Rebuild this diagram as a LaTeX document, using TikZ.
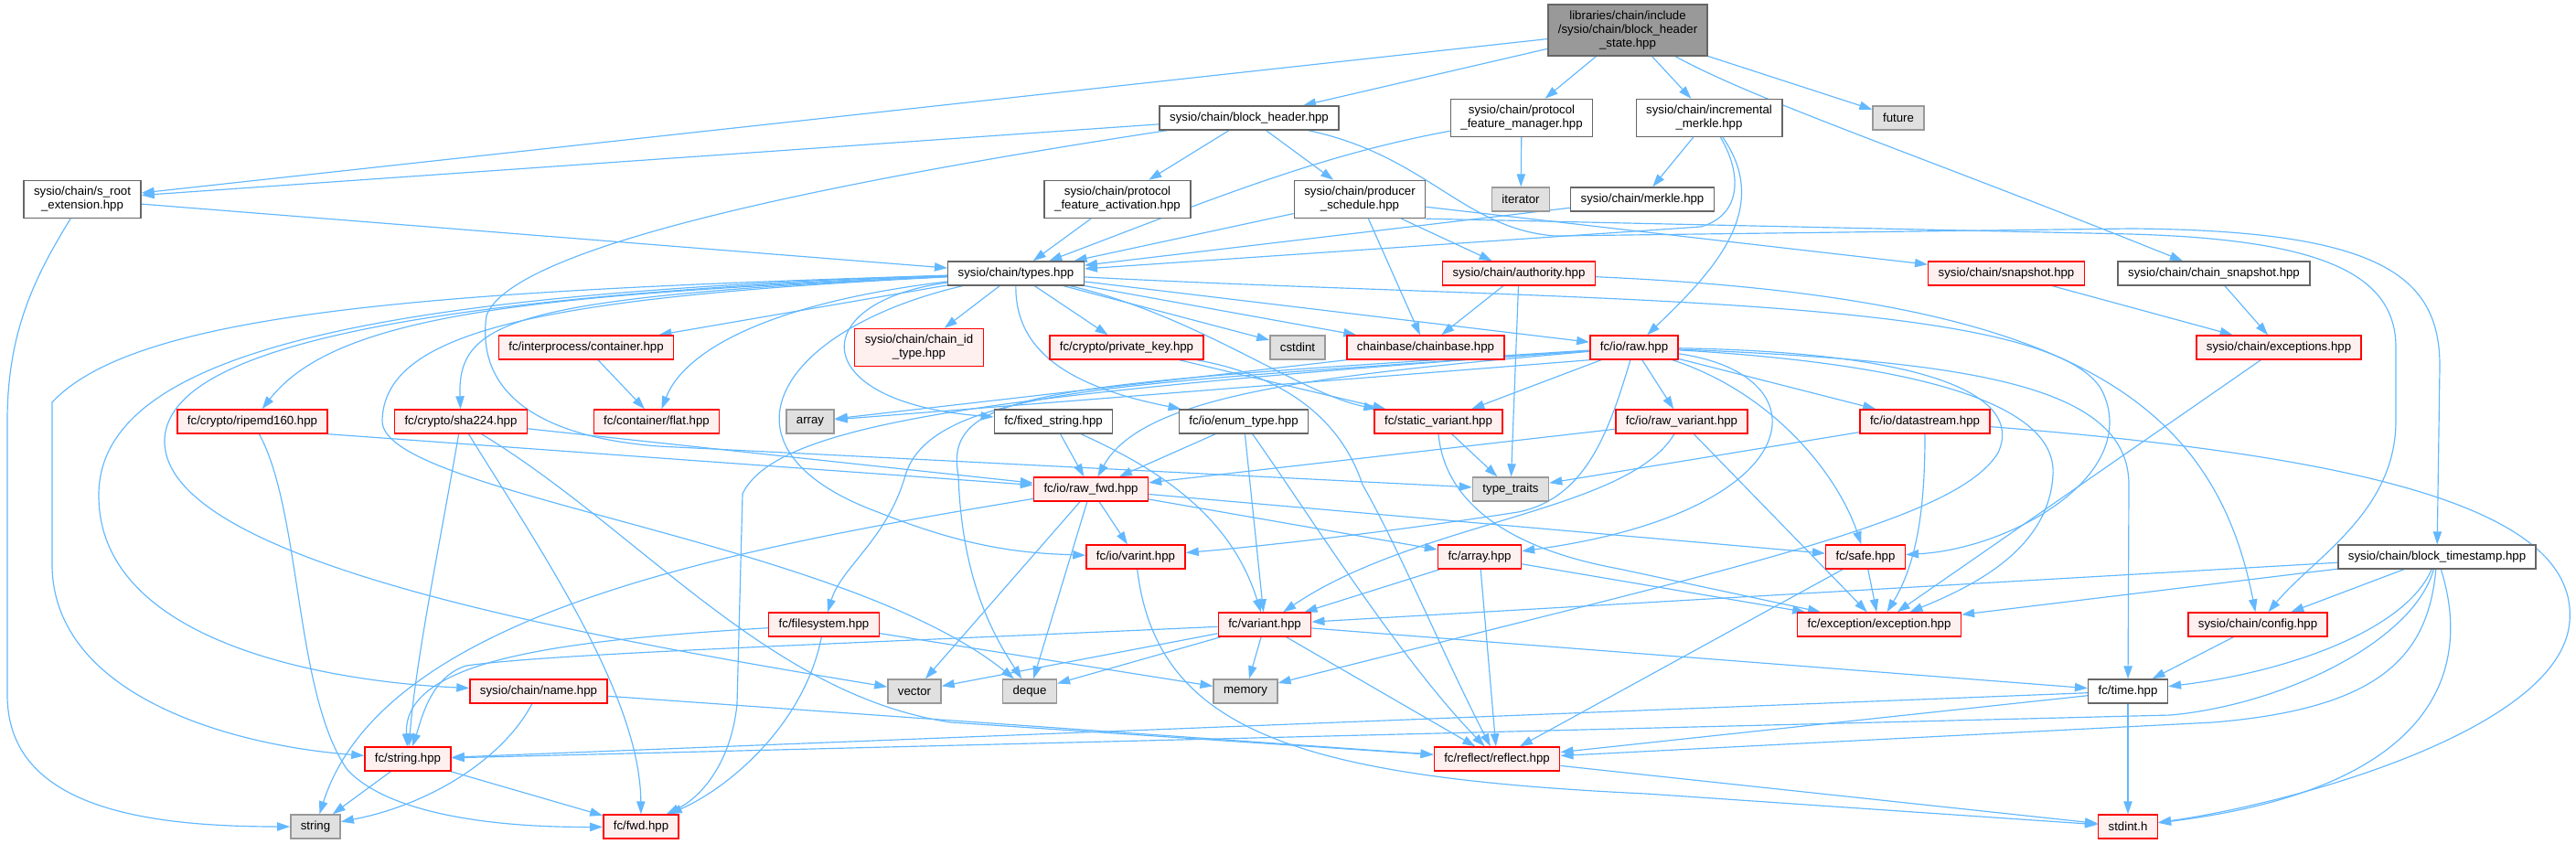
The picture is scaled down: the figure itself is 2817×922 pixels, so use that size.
\documentclass[tikz,border=0pt]{standalone}
\usepackage{fontspec}
\setmainfont{Liberation Sans}
\usepackage{xcolor}
\usepackage{tikz}
\usetikzlibrary{arrows.meta,backgrounds}

\definecolor{edgeblue}{HTML}{63B8FF}
\definecolor{redfill}{HTML}{FFF0F0}
\definecolor{greyfill}{HTML}{E0E0E0}
\definecolor{greyline}{HTML}{999999}
\definecolor{darkline}{HTML}{666666}

\begin{document}
\begin{tikzpicture}[
  x=0.3mm, y=-0.3mm,
  box/.style={draw=darkline, fill=white, line width=1.2pt, align=center, inner xsep=3.3mm, inner ysep=0pt, minimum height=7.8mm, font=\fontsize{11.3}{12.8}\selectfont},
  redbox/.style={box, draw=red, fill=redfill},
  greybox/.style={box, draw=greyline, fill=greyfill},
  topbox/.style={box, fill=greyline},
  twoline/.style={minimum height=12.3mm},
  threeline/.style={minimum height=16.8mm},
  arrow/.style={-{Triangle[length=4.2mm,width=2.8mm]}, draw=edgeblue, line width=1pt}
]
\useasboundingbox (0,0) rectangle (2817,922);

\node[topbox, threeline] (bhs) at (1780,33) {libraries/chain/include\\/sysio/chain/block\_header\\\_state.hpp};
\node[box] (bh) at (1366,129) {sysio/chain/block\_header.hpp};
\node[box, twoline] (pfm) at (1664,129) {sysio/chain/protocol\\\_feature\_manager.hpp};
\node[box, twoline] (imerkle) at (1869,129) {sysio/chain/incremental\\\_merkle.hpp};
\node[greybox] (future) at (2076,129) {future};
\node[box, twoline] (sroot) at (90,218) {sysio/chain/s\_root\\\_extension.hpp};
\node[box, twoline] (pfa) at (1222,218) {sysio/chain/protocol\\\_feature\_activation.hpp};
\node[box, twoline] (prodsched) at (1487,218) {sysio/chain/producer\\\_schedule.hpp};
\node[greybox] (iterator) at (1663,218) {iterator};
\node[box] (merkle) at (1796,218) {sysio/chain/merkle.hpp};
\node[box] (types) at (1111,299) {sysio/chain/types.hpp};
\node[redbox] (authority) at (1661,299) {sysio/chain/authority.hpp};
\node[redbox] (snapshot) at (2194,299) {sysio/chain/snapshot.hpp};
\node[box] (chainsnap) at (2421,299) {sysio/chain/chain\_snapshot.hpp};
\node[redbox] (container) at (641,380) {fc/interprocess/container.hpp};
\node[redbox, twoline] (chainid) at (1005,380) {sysio/chain/chain\_id\\\_type.hpp};
\node[redbox] (privkey) at (1232,380) {fc/crypto/private\_key.hpp};
\node[greybox] (cstdint) at (1419,380) {cstdint};
\node[redbox] (chainbase) at (1559,380) {chainbase/chainbase.hpp};
\node[redbox] (raw) at (1787,380) {fc/io/raw.hpp};
\node[redbox] (exceptions) at (2492,380) {sysio/chain/exceptions.hpp};
\node[redbox] (ripemd) at (276,461) {fc/crypto/ripemd160.hpp};
\node[redbox] (sha224) at (504,461) {fc/crypto/sha224.hpp};
\node[redbox] (flat) at (718,461) {fc/container/flat.hpp};
\node[greybox] (array) at (886,461) {array};
\node[box] (fixedstr) at (1152,461) {fc/fixed\_string.hpp};
\node[box] (enumtype) at (1360,461) {fc/io/enum\_type.hpp};
\node[redbox] (staticvar) at (1573,461) {fc/static\_variant.hpp};
\node[redbox] (rawvariant) at (1839,461) {fc/io/raw\_variant.hpp};
\node[redbox] (datastream) at (2105,461) {fc/io/datastream.hpp};
\node[redbox] (rawfwd) at (1193,535) {fc/io/raw\_fwd.hpp};
\node[greybox] (typetraits) at (1652,535) {type\_traits};
\node[redbox] (varint) at (1242,609) {fc/io/varint.hpp};
\node[redbox] (fcarray) at (1618,609) {fc/array.hpp};
\node[redbox] (safe) at (2040,609) {fc/safe.hpp};
\node[box] (blockts) at (2665,609) {sysio/chain/block\_timestamp.hpp};
\node[redbox] (filesystem) at (901,683) {fc/filesystem.hpp};
\node[redbox] (fcvariant) at (1383,683) {fc/variant.hpp};
\node[redbox] (exception) at (2055,683) {fc/exception/exception.hpp};
\node[redbox] (config) at (2469,683) {sysio/chain/config.hpp};
\node[redbox] (name) at (589,756) {sysio/chain/name.hpp};
\node[greybox] (vector) at (1000,756) {vector};
\node[greybox] (deque) at (1126,756) {deque};
\node[greybox] (memory) at (1362,756) {memory};
\node[box] (time) at (2327,756) {fc/time.hpp};
\node[redbox] (fcstring) at (446,830) {fc/string.hpp};
\node[redbox] (reflect) at (1637,830) {fc/reflect/reflect.hpp};
\node[greybox] (stdstring) at (345,904) {string};
\node[redbox] (fwd) at (701,904) {fc/fwd.hpp};
\node[redbox] (stdint) at (2327,904) {stdint.h};

\begin{pgfonlayer}{background}
\draw[arrow] (bhs) -- (sroot);
\draw[arrow] (bhs) -- (bh);
\draw[arrow] (bhs) -- (pfm);
\draw[arrow] (bhs) -- (imerkle);
\draw[arrow] (bhs) -- (future);
\draw[arrow] (bhs) .. controls (1920,110) and (2100,170) .. (chainsnap);

\draw[arrow] (bh) -- (sroot);
\draw[arrow] (bh) -- (pfa);
\draw[arrow] (bh) -- (prodsched);
\draw[arrow] (bh) .. controls (1560,170) and (1600,250) .. (1700,258) -- (2330,250) .. controls (2600,252) and (2668,300) .. (2668,400) -- (blockts);
\draw[arrow] (bh) .. controls (900,200) and (560,270) .. (532,345) .. controls (520,430) and (590,478) .. (720,488) -- (typetraits);

\draw[arrow] (sroot) -- (types);
\draw[arrow] (sroot) .. controls (40,300) and (8,360) .. (8,460) -- (8,760) .. controls (8,880) and (150,904) .. (stdstring);

\draw[arrow] (pfm) .. controls (1440,170) and (1320,220) .. (types);
\draw[arrow] (pfm) -- (iterator);

\draw[arrow] (imerkle) -- (merkle);
\draw[arrow] (imerkle) .. controls (1905,190) and (1905,235) .. (1860,248) -- (types);
\draw[arrow] (imerkle) .. controls (1940,230) and (1870,300) .. (raw);

\draw[arrow] (pfa) -- (types);
\draw[arrow] (merkle) -- (types);

\draw[arrow] (prodsched) -- (types);
\draw[arrow] (prodsched) -- (chainbase);
\draw[arrow] (prodsched) -- (authority);
\draw[arrow] (prodsched) -- (snapshot);
\draw[arrow] (prodsched.south east) -- (2330,256) .. controls (2540,262) and (2620,300) .. (2620,380) -- (2620,460) .. controls (2620,560) and (2530,610) .. (config);

\draw[arrow] (authority) -- (chainbase);
\draw[arrow] (authority) -- (typetraits);
\draw[arrow] (authority) .. controls (2250,325) and (2420,430) .. (config);

\draw[arrow] (snapshot) -- (exceptions);
\draw[arrow] (chainsnap) -- (exceptions);
\draw[arrow] (exceptions) -- (exception);

\draw[arrow] (types) -- (container);
\draw[arrow] (types) -- (chainid);
\draw[arrow] (types) -- (privkey);
\draw[arrow] (types) -- (cstdint);
\draw[arrow] (types) -- (chainbase);
\draw[arrow] (types) -- (raw);
\draw[arrow] (types) .. controls (1310,345) and (1420,430) .. (staticvar);
\draw[arrow] (types) .. controls (850,330) and (750,380) .. (flat);
\draw[arrow] (types) .. controls (600,322) and (370,340) .. (ripemd);
\draw[arrow] (types) .. controls (560,325) and (500,350) .. (sha224);
\draw[arrow] (types) .. controls (880,330) and (880,440) .. (fixedstr);
\draw[arrow] (types) .. controls (1110,390) and (1180,425) .. (enumtype);
\draw[arrow] (types) .. controls (850,360) and (770,490) .. (960,560) .. controls (1060,600) and (1120,605) .. (varint);
\draw[arrow] (types) .. controls (480,318) and (150,340) .. (57,440) -- (57,620) .. controls (60,760) and (250,815) .. (fcstring);
\draw[arrow] (types) .. controls (430,320) and (110,380) .. (108,540) .. controls (106,700) and (350,745) .. (name);
\draw[arrow] (types) .. controls (400,325) and (185,390) .. (180,480) .. controls (175,610) and (600,690) .. (vector);
\draw[arrow] (types) .. controls (600,325) and (420,360) .. (418,460) .. controls (416,540) and (920,590) .. (deque);
\draw[arrow] (types) .. controls (1700,330) and (2250,320) .. (2300,430) .. controls (2340,520) and (2200,600) .. (safe);

\draw[arrow] (container) -- (flat);
\draw[arrow] (chainbase.south west) -- (array);
\draw[arrow] (privkey) -- (staticvar);
\draw[arrow] (privkey) .. controls (1400,410) and (1465,455) .. (1490,530) .. controls (1530,600) and (1580,720) .. (reflect);

\draw[arrow] (raw.south west) -- (array);
\draw[arrow] (raw) -- (staticvar);
\draw[arrow] (raw) -- (rawvariant);
\draw[arrow] (raw) -- (datastream);
\draw[arrow] (raw) .. controls (1940,430) and (2010,520) .. (safe);
\draw[arrow] (raw) .. controls (1760,470) and (1735,545) .. (1660,560) .. controls (1500,585) and (1350,600) .. (varint);
\draw[arrow] (raw) .. controls (1450,410) and (1250,430) .. (rawfwd);
\draw[arrow] (raw) .. controls (1150,420) and (1030,425) .. (1048,520) .. controls (1052,640) and (1090,700) .. (deque);
\draw[arrow] (raw) .. controls (1100,430) and (850,460) .. (812,540) -- (806,770) .. controls (800,830) and (770,870) .. (fwd);
\draw[arrow] (raw) .. controls (1250,420) and (1020,420) .. (990,520) .. controls (970,590) and (920,620) .. (filesystem);
\draw[arrow] (raw) .. controls (2000,410) and (1980,560) .. (fcarray);
\draw[arrow] (raw) .. controls (2150,395) and (2328,420) .. (2328,530) -- (time);
\draw[arrow] (raw) .. controls (2130,400) and (2250,450) .. (2245,520) .. controls (2240,600) and (2160,640) .. (exception);
\draw[arrow] (raw) .. controls (2100,385) and (2215,430) .. (2185,495) .. controls (2140,570) and (1900,620) .. (memory);

\draw[arrow] (ripemd.south east) -- (rawfwd);
\draw[arrow] (ripemd) .. controls (330,560) and (322,760) .. (380,842) .. controls (430,895) and (560,905) .. (fwd);
\draw[arrow] (sha224) -- (rawfwd);
\draw[arrow] (sha224) .. controls (480,600) and (455,720) .. (fcstring);
\draw[arrow] (sha224) .. controls (590,600) and (700,760) .. (fwd);
\draw[arrow] (sha224) .. controls (700,580) and (840,760) .. (1040,790) -- (reflect);

\draw[arrow] (fixedstr) -- (rawfwd);
\draw[arrow] (fixedstr) .. controls (1260,510) and (1345,560) .. (fcvariant);
\draw[arrow] (enumtype) -- (rawfwd);
\draw[arrow] (enumtype) -- (fcvariant);
\draw[arrow] (enumtype) .. controls (1430,560) and (1530,720) .. (reflect);

\draw[arrow] (staticvar) -- (typetraits);
\draw[arrow] (staticvar.south) .. controls (1580,550) and (1650,600) .. (1770,622) -- (exception);
\draw[arrow] (rawvariant) -- (rawfwd);
\draw[arrow] (rawvariant) .. controls (1780,560) and (1550,570) .. (fcvariant);
\draw[arrow] (rawvariant) -- (exception);
\draw[arrow] (datastream) -- (typetraits);
\draw[arrow] (datastream) .. controls (2105,540) and (2100,610) .. (exception);
\draw[arrow] (datastream) .. controls (2600,500) and (2820,560) .. (2810,680) .. controls (2800,800) and (2500,880) .. (stdint);

\draw[arrow] (rawfwd) -- (varint);
\draw[arrow] (rawfwd) -- (vector);
\draw[arrow] (rawfwd) -- (deque);
\draw[arrow] (rawfwd) -- (fcarray);
\draw[arrow] (rawfwd) -- (safe);
\draw[arrow] (rawfwd) .. controls (800,600) and (420,670) .. (stdstring);

\draw[arrow] (varint) .. controls (1265,800) and (1420,850) .. (1800,868) -- (stdint);
\draw[arrow] (fcarray) -- (fcvariant);
\draw[arrow] (fcarray) -- (exception);
\draw[arrow] (fcarray) -- (reflect);
\draw[arrow] (safe) -- (exception);
\draw[arrow] (safe) -- (reflect);

\draw[arrow] (blockts) -- (fcvariant);
\draw[arrow] (blockts) -- (exception);
\draw[arrow] (blockts) -- (config);
\draw[arrow] (blockts) .. controls (2630,690) and (2500,735) .. (time);
\draw[arrow] (blockts) .. controls (2655,720) and (2600,775) .. (2420,790) -- (reflect);
\draw[arrow] (blockts) .. controls (2640,700) and (2500,770) .. (2374,782) -- (fcstring);
\draw[arrow] (blockts) .. controls (2700,720) and (2680,860) .. (stdint);

\draw[arrow] (filesystem) .. controls (620,700) and (440,720) .. (fcstring);
\draw[arrow] (filesystem) -- (memory);
\draw[arrow] (filesystem) .. controls (880,790) and (800,860) .. (fwd);

\draw[arrow] (fcvariant) -- (vector);
\draw[arrow] (fcvariant) -- (deque);
\draw[arrow] (fcvariant) -- (memory);
\draw[arrow] (fcvariant) -- (time);
\draw[arrow] (fcvariant) -- (reflect);
\draw[arrow] (fcvariant) .. controls (900,705) and (600,715) .. (510,728) .. controls (470,740) and (460,790) .. (fcstring);

\draw[arrow] (config) -- (time);
\draw[arrow] (name) .. controls (550,830) and (470,880) .. (stdstring);
\draw[arrow] (name) -- (reflect);
\draw[arrow] (time) -- (stdint);
\draw[arrow] (time) -- (fcstring);
\draw[arrow] (time) -- (reflect);
\draw[arrow] (fcstring) -- (stdstring);
\draw[arrow] (fcstring) -- (fwd);
\draw[arrow] (reflect) -- (stdint);
\end{pgfonlayer}
\end{tikzpicture}
\end{document}
